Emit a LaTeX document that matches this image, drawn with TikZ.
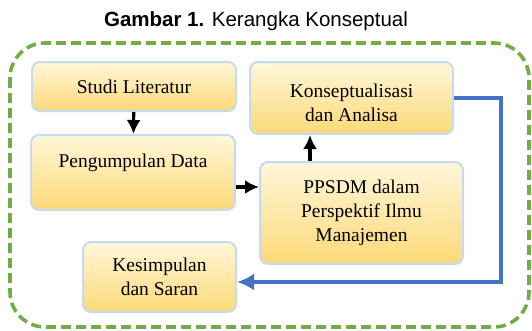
\documentclass[tikz,border=0pt]{standalone}
\usepackage{fontspec}
\setmainfont{Liberation Serif}
\newfontfamily\titlefont{Liberation Sans}
\usetikzlibrary{arrows.meta}
\definecolor{boxedge}{HTML}{C5DBF1}
\definecolor{boxtop}{HTML}{FFF7DA}
\definecolor{boxbot}{HTML}{FCD978}
\definecolor{hijau}{HTML}{70AD47}
\definecolor{biru}{HTML}{4472C4}
\begin{document}
\begin{tikzpicture}[x=1pt,y=-1pt,>={Latex[length=14pt,width=14pt]},
  kotak/.style={draw=boxedge,line width=2pt,rounded corners=8pt,top color=boxtop,bottom color=boxbot,
    align=center,inner sep=0pt,font=\fontsize{19.5}{24}\selectfont}]
\useasboundingbox (0,0) rectangle (532,330);
\node[font=\titlefont\fontsize{20.5}{24}\selectfont] (judul) at (256,21) {\textbf{Gambar 1.} Kerangka Konseptual};
\draw[hijau,line width=3.6pt,dash pattern=on 10pt off 5pt,rounded corners=35pt] (10,43) rectangle (529,327);

\node[kotak,minimum width=204pt,minimum height=49pt] (studi) at (134,86.5) {Studi Literatur};
\node[kotak,minimum width=203pt,minimum height=72pt,text height=47.3pt] (konsep) at (351.5,98) {Konseptualisasi\\dan Analisa};
\node[kotak,minimum width=204pt,minimum height=75pt,text height=13.5pt,text depth=23.5pt] (peng) at (133,172.5) {Pengumpulan Data};
\node[kotak,minimum width=203pt,minimum height=102pt] (ppsdm) at (361.5,213) {PPSDM dalam\\Perspektif Ilmu\\Manajemen};
\node[kotak,minimum width=153pt,minimum height=70pt] (kesim) at (159.5,277) {Kesimpulan\\dan Saran};

\draw[->,line width=3.2pt](studi)--(peng);
\draw[->,line width=3.2pt]([yshift=-14.5pt]peng.east)--([yshift=-14.5pt]peng.east-|ppsdm.west);
\draw[->,line width=3.2pt]([xshift=51pt]ppsdm.north west)--([xshift=51pt]ppsdm.north west|-konsep.south);

\coordinate (belok) at (501,282);
\draw[-{Latex[length=17pt,width=17pt]},biru,line width=3.8pt](konsep.east)-|(belok)--(belok-|kesim.east);
\end{tikzpicture}
\end{document}
